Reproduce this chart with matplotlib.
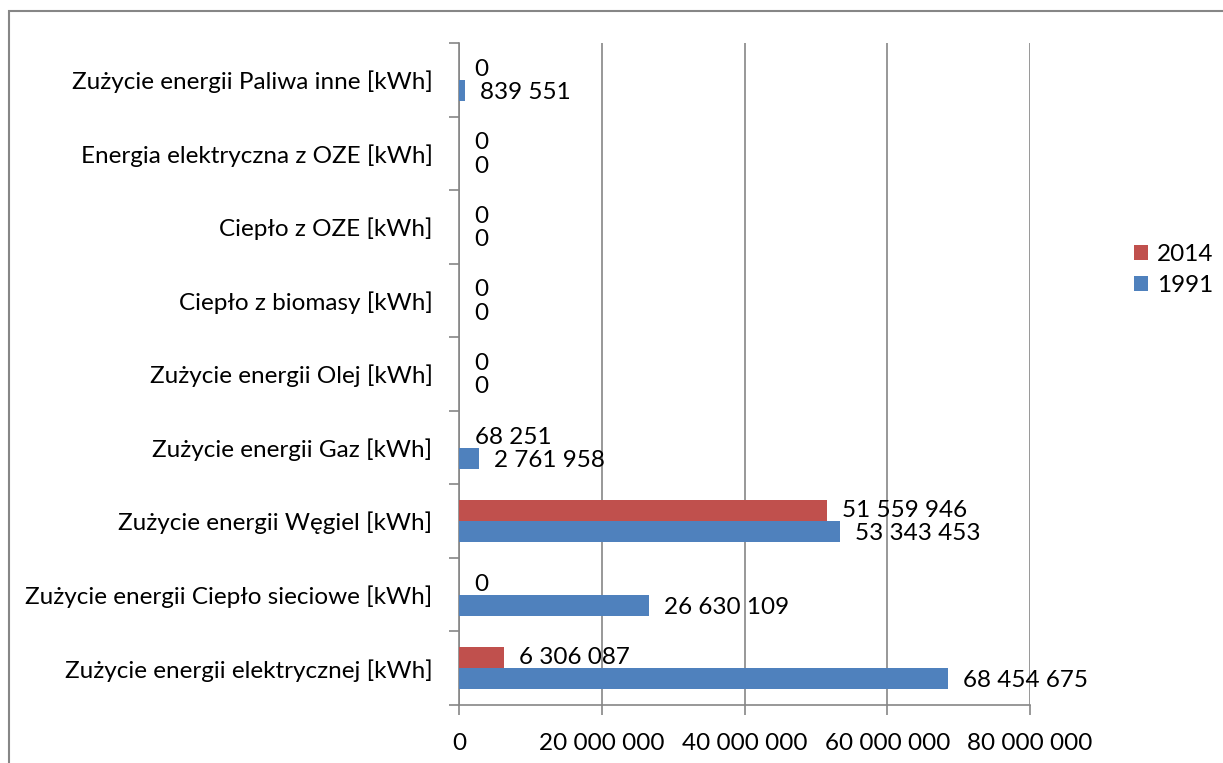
import matplotlib.pyplot as plt
import matplotlib.patches as patches
import numpy as np

categories = [
    'Zużycie energii elektrycznej [kWh]',
    'Zużycie energii Ciepło sieciowe [kWh]',
    'Zużycie energii Węgiel [kWh]',
    'Zużycie energii Gaz [kWh]',
    'Zużycie energii Olej [kWh]',
    'Ciepło z biomasy [kWh]',
    'Ciepło z OZE [kWh]',
    'Energia elektryczna z OZE [kWh]',
    'Zużycie energii Paliwa inne [kWh]',
]
values_2014 = [6306087, 0, 51559946, 68251, 0, 0, 0, 0, 0]
values_1991 = [68454675, 26630109, 53343453, 2761958, 0, 0, 0, 0, 839551]
x_ticks = [0, 20000000, 40000000, 60000000, 80000000]

plt.rcParams['font.family'] = ['Lato', 'DejaVu Sans']

def fmt(v):
    return f'{v:,}'.replace(',', ' ')

grey = '#868686'
red = '#C0504D'
blue = '#4F81BD'
fs = 17.5

fig = plt.figure(figsize=(12.23, 7.63), dpi=100)
ax = fig.add_axes([459 / 1223, 1 - 705 / 763, (1030 - 459) / 1223, (705 - 43) / 763])

y = np.arange(len(categories))
h = 0.285
ax.barh(y + h / 2, values_2014, height=h, color=red, label='2014', zorder=3)
ax.barh(y - h / 2, values_1991, height=h, color=blue, label='1991', zorder=3)

for yy, v in zip(y + h / 2, values_2014):
    ax.annotate(fmt(v), (v, yy), xytext=(11, 0), textcoords='offset points',
                va='center', ha='left', fontsize=fs)
for yy, v in zip(y - h / 2, values_1991):
    ax.annotate(fmt(v), (v, yy - 0.03), xytext=(11, 0), textcoords='offset points',
                va='center', ha='left', fontsize=fs)

ax.set_xlim(0, 80000000)
ax.set_ylim(-0.5, len(categories) - 0.5)
ax.set_xticks(x_ticks)
ax.set_xticklabels([fmt(t) for t in x_ticks], fontsize=fs)
ax.set_yticks(y)
ax.set_yticklabels(categories, fontsize=fs)
ax.set_yticks(np.arange(-0.5, len(categories)), minor=True)
ax.tick_params(axis='y', which='major', length=0, pad=19)
ax.tick_params(axis='y', which='minor', length=7, color=grey, width=1.2)
ax.tick_params(axis='x', length=7, color=grey, width=1.2, pad=13)

ax.xaxis.grid(True, color=grey, linewidth=1.2, zorder=0)
for s in ['top', 'right']:
    ax.spines[s].set_visible(False)
for s in ['left', 'bottom']:
    ax.spines[s].set_color(grey)
    ax.spines[s].set_linewidth(1.2)

handles, labels = ax.get_legend_handles_labels()
fig.legend(handles, labels, loc='center left',
           bbox_to_anchor=(1112 / 1223, 1 - 270 / 763), frameon=False,
           fontsize=fs, handlelength=0.6, handleheight=0.6,
           handletextpad=0.35, labelspacing=0.4)

fig.patches.append(patches.Rectangle((9 / 1223, -0.1), 1.5, 1.1 - 11 / 763,
                                     transform=fig.transFigure, fill=False,
                                     edgecolor=grey, linewidth=1.5))

fig.savefig('out.png', dpi=100)
